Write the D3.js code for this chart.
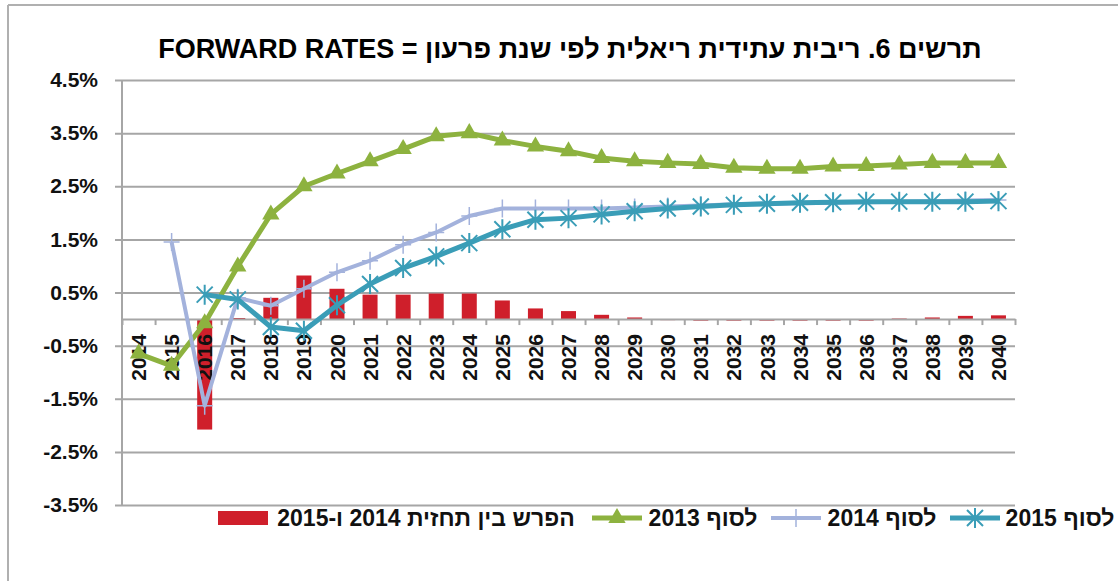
<!DOCTYPE html>
<html>
<head>
<meta charset="utf-8">
<script src="https://cdn.jsdelivr.net/npm/d3@7"></script>
<style>
  body { margin: 0; background: #fff; }
  svg { font-family: "Liberation Sans", Arial, "DejaVu Sans", sans-serif; }
  .title { font-size: 27px; font-weight: bold; }
  .yAxis text, .xLabels text { font-size: 21px; font-weight: bold; fill: #111; }
  .legend text { font-size: 23px; font-weight: bold; fill: #111; }
</style>
</head>
<body>
<svg></svg>
<script>
//categories (forecast year)
var years = ["2014","2015","2016","2017","2018","2019","2020","2021","2022","2023","2024","2025","2026",
             "2027","2028","2029","2030","2031","2032","2033","2034","2035","2036","2037","2038","2039","2040"];

//forward rates, percent
var end2013 = [-0.65,-0.88,-0.08,0.99,1.97,2.5,2.74,2.97,3.2,3.44,3.5,3.36,3.25,3.16,3.03,2.97,2.94,2.92,
               2.85,2.83,2.83,2.87,2.88,2.91,2.94,2.94,2.94];
var end2014 = [null,1.45,-1.63,0.4,0.25,0.57,0.88,1.1,1.4,1.63,1.94,2.08,2.08,2.08,2.08,2.1,2.12,2.14,
               2.16,2.17,2.18,2.19,2.2,2.21,2.22,2.23,2.24];
var end2015 = [null,null,0.46,0.37,-0.15,-0.22,0.26,0.66,0.96,1.18,1.43,1.69,1.87,1.9,1.97,2.03,2.08,2.12,
               2.15,2.17,2.19,2.2,2.21,2.21,2.21,2.21,2.22];
//difference between 2014 and 2015 forecasts
var diff = [null,null,-2.08,0.02,0.4,0.82,0.57,0.46,0.46,0.48,0.48,0.35,0.2,0.15,0.08,0.03,-0.02,-0.03,
            -0.03,-0.03,-0.03,-0.03,-0.03,0.01,0.03,0.06,0.07];

var yTicks = [4.5,3.5,2.5,1.5,0.5,-0.5,-1.5,-2.5,-3.5];

var titleText = "תרשים 6. ריבית עתידית ריאלית לפי שנת פרעון = FORWARD RATES";
var legendLabels = ["הפרש בין תחזית 2014 ו-2015","לסוף 2013","לסוף 2014","לסוף 2015"];

var colors = {bar:"#cf1f2b", s2013:"#8db23f", s2014:"#a3b2dc", s2015:"#3a9db7", grid:"#a6a6a6"};

var screen = {width:1118, height:581};
var plot = {left:122, right:1015, top:80, bottom:505};

var svg = d3.select("svg")
    .attr("width", screen.width)
    .attr("height", screen.height);

//frame lines of the original picture
svg.append("line").attr("x1",8).attr("x2",8).attr("y1",5).attr("y2",581)
    .attr("stroke","#b0b0b0").attr("stroke-width",2);
svg.append("line").attr("x1",8).attr("x2",1118).attr("y1",5).attr("y2",5)
    .attr("stroke","#b0b0b0").attr("stroke-width",2);

var xScale = d3.scaleBand()
    .domain(years)
    .range([plot.left, plot.right]);

var yScale = d3.scaleLinear()
    .domain([-3.5, 4.5])
    .range([plot.bottom, plot.top]);

//gridlines + y labels
var yAxis = d3.axisLeft(yScale)
    .tickValues(yTicks)
    .tickSizeInner(-(plot.right - plot.left + 7))
    .tickSizeOuter(0)
    .tickPadding(17)
    .tickFormat(function(d){ return d.toFixed(1) + "%"; });

var yG = svg.append("g")
    .attr("class","yAxis")
    .attr("transform","translate(" + (plot.left - 7) + ",0)")
    .call(yAxis);
yG.select(".domain").remove();
yG.selectAll("line").attr("stroke", colors.grid).attr("stroke-width",2);

svg.append("line")
    .attr("x1",plot.left).attr("x2",plot.left)
    .attr("y1",plot.top).attr("y2",plot.bottom)
    .attr("stroke",colors.grid).attr("stroke-width",2);

//bars
var idx = d3.range(years.length);
svg.append("g")
    .selectAll("rect")
    .data(idx.filter(function(i){ return diff[i] !== null; }))
    .enter()
    .append("rect")
    .attr("x", function(i){ return xScale(years[i]) + xScale.bandwidth()/2 - 7.5; })
    .attr("width", 15)
    .attr("y", function(i){ return yScale(Math.max(0, diff[i])); })
    .attr("height", function(i){ return Math.abs(yScale(diff[i]) - yScale(0)); })
    .attr("fill", colors.bar);

//x axis at zero, ticks between categories
var edgeScale = d3.scaleLinear().domain([0, years.length]).range([plot.left, plot.right]);
var xTicks = svg.append("g")
    .attr("transform","translate(0," + yScale(0) + ")")
    .call(d3.axisBottom(edgeScale).ticks(years.length).tickSizeInner(6).tickSizeOuter(0).tickFormat(""));
xTicks.selectAll("line").attr("stroke",colors.grid).attr("stroke-width",2);
xTicks.select(".domain").attr("stroke",colors.grid).attr("stroke-width",2);

var xLabels = svg.append("g")
    .attr("class","xLabels")
    .attr("transform","translate(0," + yScale(0) + ")")
    .call(d3.axisBottom(xScale).tickSize(0));
xLabels.select(".domain").remove();
xLabels.selectAll("text")
    .attr("transform","rotate(-90)")
    .attr("x",-15)
    .attr("y",0)
    .attr("dy","0.36em")
    .attr("text-anchor","end");

//lines
var cx = function(i){ return xScale(years[i]) + xScale.bandwidth()/2; };
var drawSeries = function(values, color, width)
{
    var pts = idx.filter(function(i){ return values[i] !== null; });
    var line = d3.line()
        .x(function(i){ return cx(i); })
        .y(function(i){ return yScale(values[i]); });
    svg.append("path")
        .datum(pts)
        .attr("d", line)
        .attr("fill","none")
        .attr("stroke",color)
        .attr("stroke-width",width)
        .attr("stroke-linejoin","round");
    return svg.append("g").selectAll("path").data(pts).enter().append("path")
        .attr("transform", function(i){ return "translate(" + cx(i) + "," + yScale(values[i]) + ")"; });
};

var triangle = d3.symbol().type(d3.symbolTriangle).size(130)();
var plusMark = "M0,-9L0,9M-8,0L8,0";
var starMark = "M0,-10L0,10M-8,-8L8,8M-8,8L8,-8";

drawSeries(end2013, colors.s2013, 5)
    .attr("d", triangle)
    .attr("fill", colors.s2013);

drawSeries(end2014, colors.s2014, 4)
    .attr("d", plusMark)
    .attr("fill","none")
    .attr("stroke", colors.s2014)
    .attr("stroke-width",1.5);

drawSeries(end2015, colors.s2015, 5)
    .attr("d", starMark)
    .attr("fill","none")
    .attr("stroke", colors.s2015)
    .attr("stroke-width",2);

//title
svg.append("text")
    .attr("class","title")
    .attr("direction","rtl")
    .attr("text-anchor","middle")
    .attr("x",570)
    .attr("y",58)
    .text(titleText);

//legend
var legend = svg.append("g").attr("class","legend");
var textCenters = [426, 703, 882, 1060];
var markCenters = [243, 617, 796, 975];
legend.selectAll("text")
    .data(legendLabels)
    .enter()
    .append("text")
    .attr("direction","rtl")
    .attr("text-anchor","middle")
    .attr("x", function(d,i){ return textCenters[i]; })
    .attr("y", 526)
    .text(function(d){ return d; });

legend.append("rect")
    .attr("x", markCenters[0]-25).attr("y",511).attr("width",50).attr("height",14)
    .attr("fill", colors.bar);

var legendLine = function(xc, color, width)
{
    legend.append("line")
        .attr("x1", xc-25).attr("x2", xc+25).attr("y1",518).attr("y2",518)
        .attr("stroke",color).attr("stroke-width",width);
    return legend.append("path").attr("transform","translate(" + xc + ",518)");
};
legendLine(markCenters[1], colors.s2013, 5).attr("d",triangle).attr("fill",colors.s2013);
legendLine(markCenters[2], colors.s2014, 4).attr("d",plusMark).attr("fill","none")
    .attr("stroke",colors.s2014).attr("stroke-width",1.5);
legendLine(markCenters[3], colors.s2015, 5).attr("d",starMark).attr("fill","none")
    .attr("stroke",colors.s2015).attr("stroke-width",2);
</script>
</body>
</html>
